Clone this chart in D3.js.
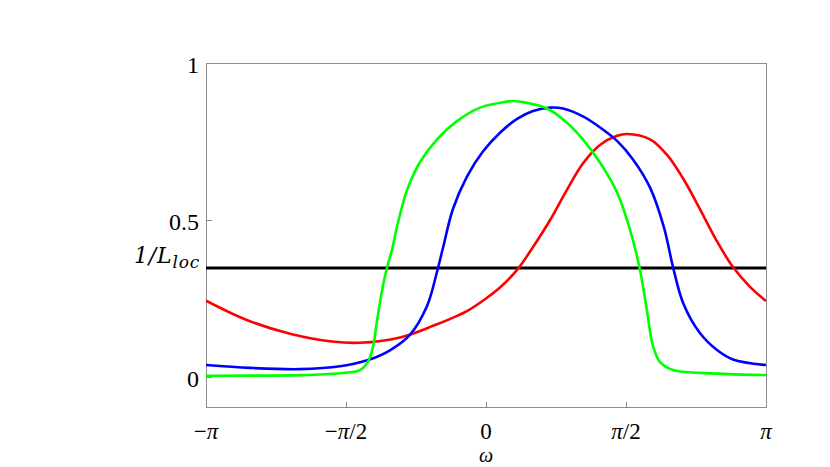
<!DOCTYPE html>
<html>
<head>
<meta charset="utf-8">
<script src="https://cdn.jsdelivr.net/npm/d3@7"></script>
<style>
  html, body { margin: 0; padding: 0; background: #fff; }
  svg { display: block; }
</style>
</head>
<body>
<svg id="chart" width="830" height="467"></svg>
<script>
// ---- data (omega in units of pi) ----
const redOmega = [-1, -0.85, -0.7, -0.55, -0.45, -0.307, -0.189, -0.068, 0, 0.05, 0.111, 0.168, 0.229, 0.289, 0.346, 0.407, 0.468, 0.504, 0.586, 0.646, 0.704, 0.764, 0.82, 0.882, 0.943, 1];
const redValue = [0.243, 0.180, 0.138, 0.113, 0.109, 0.126, 0.163, 0.210, 0.250, 0.285, 0.341, 0.414, 0.5, 0.596, 0.680, 0.739, 0.768, 0.774, 0.757, 0.708, 0.632, 0.535, 0.440, 0.350, 0.287, 0.242];

const blueOmega = [-1, -0.843, -0.664, -0.521, -0.421, -0.343, -0.271, -0.211, -0.175, -0.154, -0.118, -0.068, -0.011, 0.05, 0.111, 0.168, 0.229, 0.275, 0.346, 0.407, 0.468, 0.525, 0.586, 0.636, 0.668, 0.704, 0.764, 0.825, 0.882, 1];
const blueValue = [0.038, 0.029, 0.025, 0.034, 0.054, 0.085, 0.135, 0.225, 0.335, 0.410, 0.535, 0.638, 0.718, 0.778, 0.822, 0.847, 0.858, 0.855, 0.830, 0.795, 0.752, 0.693, 0.603, 0.475, 0.350, 0.236, 0.140, 0.086, 0.056, 0.038];

const greenOmega = [-1, -0.664, -0.521, -0.45, -0.421, -0.404, -0.389, -0.371, -0.354, -0.336, -0.318, -0.282, -0.236, -0.175, -0.104, -0.021, 0.075, 0.096, 0.146, 0.218, 0.289, 0.346, 0.407, 0.468, 0.514, 0.55, 0.575, 0.596, 0.621, 0.668, 0.764, 1];
const greenValue = [0.004, 0.006, 0.012, 0.022, 0.050, 0.095, 0.180, 0.277, 0.347, 0.404, 0.478, 0.595, 0.684, 0.757, 0.815, 0.858, 0.877, 0.879, 0.873, 0.855, 0.810, 0.757, 0.683, 0.588, 0.470, 0.341, 0.210, 0.100, 0.048, 0.022, 0.013, 0.006];

const invLloc = 0.347;

const xTickValues = [-1, -0.5, 0, 0.5, 1];
const xTickLabels = [["−", "π", ""], ["−", "π", "/2"], ["", "", "0"], ["", "π", "/2"], ["", "π", ""]];
const yTickValues = [0, 0.5, 1];
const yTickLabels = ["0", "0.5", "1"];

// ---- layout ----
const svg = d3.select("#chart");
const mLeft = 206, mRight = 766, mTop = 63, mBottom = 407;
const x = d3.scaleLinear().domain([-1, 1]).range([mLeft, mRight]);
const y = d3.scaleLinear().domain([0, 1]).range([377, mTop]);

const frameColor = "#8c8c8c";
const serif = "'Liberation Serif', 'Times New Roman', serif";

// clip
svg.append("defs").append("clipPath").attr("id", "clip")
  .append("rect").attr("x", mLeft).attr("y", mTop).attr("width", mRight - mLeft).attr("height", mBottom - mTop);

// frame
svg.append("rect").attr("x", mLeft + 0.5).attr("y", mTop + 0.5).attr("width", mRight - mLeft).attr("height", mBottom - mTop)
  .attr("fill", "none").attr("stroke", frameColor).attr("stroke-width", 1);

// x axis ticks (inward)
const xAxis = d3.axisBottom(x).tickValues(xTickValues).tickSize(-5).tickFormat("");
const gx = svg.append("g").attr("transform", `translate(0,${mBottom})`).call(xAxis);
gx.select(".domain").remove();
gx.selectAll(".tick line").attr("stroke", frameColor);

// y axis ticks (inward)
const yAxis = d3.axisLeft(y).tickValues(yTickValues).tickSize(-6).tickFormat("");
const gy = svg.append("g").attr("transform", `translate(${mLeft},0)`).call(yAxis);
gy.select(".domain").remove();
gy.selectAll(".tick line").attr("stroke", frameColor);

// x tick labels
xTickValues.forEach((v, i) => {
  const parts = xTickLabels[i];
  const t = svg.append("text").attr("x", x(v)).attr("y", 439)
    .attr("text-anchor", "middle").attr("font-family", serif).attr("font-size", 23).attr("fill", "#000");
  if (parts[0]) t.append("tspan").text(parts[0]);
  if (parts[1]) t.append("tspan").text(parts[1]).attr("font-style", "italic");
  if (parts[2]) t.append("tspan").text(parts[2]);
});

// y tick labels
yTickValues.forEach((v, i) => {
  svg.append("text").attr("x", 199).attr("y", y(v) + 10)
    .attr("text-anchor", "end").attr("font-family", serif).attr("font-size", 24).attr("fill", "#000")
    .text(yTickLabels[i]);
});

// 1/L_loc label
const lab = svg.append("text").attr("x", 200).attr("y", y(invLloc) - 5)
  .attr("text-anchor", "end").attr("font-family", "'DejaVu Serif', serif").attr("font-style", "italic")
  .attr("font-size", 22).attr("letter-spacing", 0.8).attr("fill", "#000");
lab.append("tspan").text("1/L");
lab.append("tspan").text("loc").attr("font-size", 17).attr("dy", 5);

// x axis title
svg.append("text").attr("x", x(0)).attr("y", 462).attr("text-anchor", "middle")
  .attr("font-family", serif).attr("font-style", "italic").attr("font-size", 20).text("ω");

// curves
const plot = svg.append("g").attr("clip-path", "url(#clip)");
const line = d3.line().x(d => x(d[0])).y(d => y(d[1])).curve(d3.curveCatmullRom.alpha(0.5));

plot.append("path").datum([[x.domain()[0], invLloc], [x.domain()[1], invLloc]])
  .attr("d", line).attr("fill", "none").attr("stroke", "#000").attr("stroke-width", 3);

const series = [
  { w: redOmega, v: redValue, color: "#ff0000" },
  { w: blueOmega, v: blueValue, color: "#0000ff" },
  { w: greenOmega, v: greenValue, color: "#00ff00" }
];
series.forEach(s => {
  plot.append("path").datum(s.w.map((w, i) => [w, s.v[i]]))
    .attr("d", line).attr("fill", "none").attr("stroke", s.color)
    .attr("stroke-width", 2.6).attr("stroke-linejoin", "round");
});
</script>
</body>
</html>
